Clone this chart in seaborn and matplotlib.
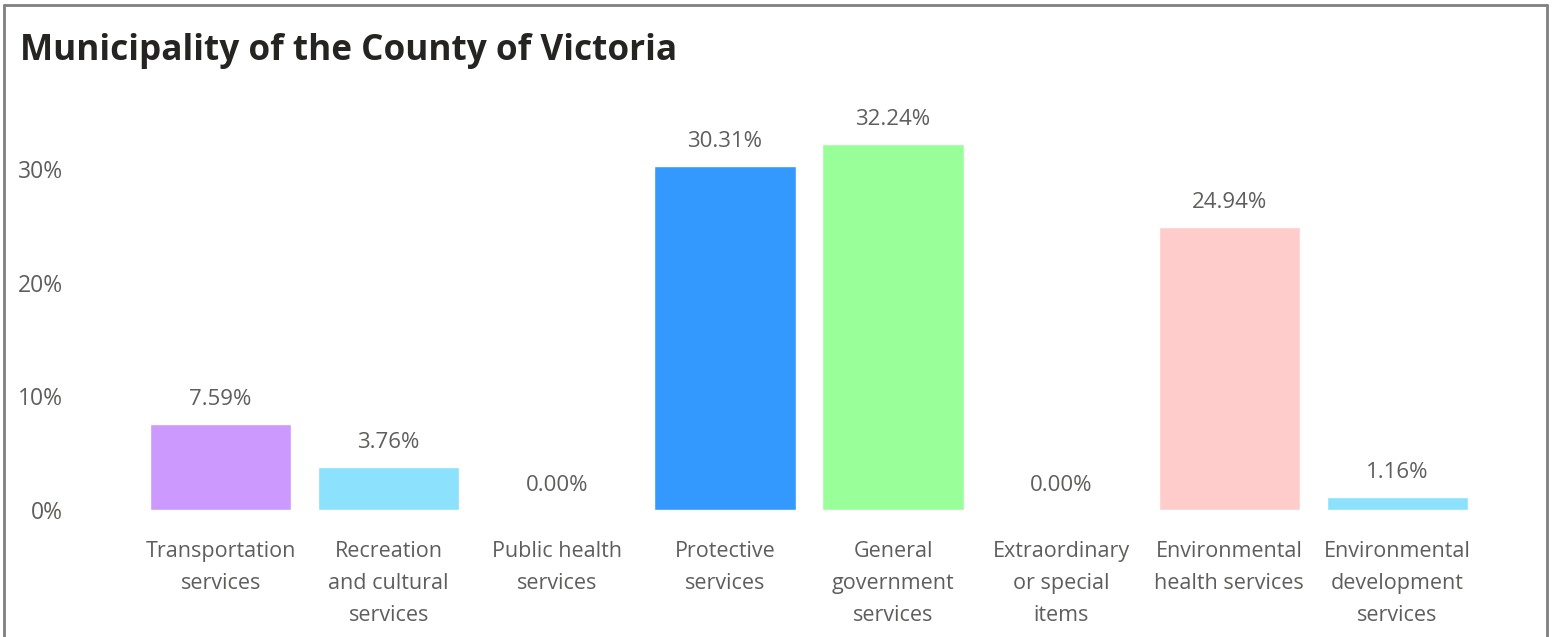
import pandas as pd
import seaborn as sns
import matplotlib.pyplot as plt
from matplotlib.lines import Line2D

# data
categories = ['Transportation\nservices', 'Recreation\nand cultural\nservices',
              'Public health\nservices', 'Protective\nservices',
              'General\ngovernment\nservices', 'Extraordinary\nor special\nitems',
              'Environmental\nhealth services', 'Environmental\ndevelopment\nservices']
values = [7.59, 3.76, 0.00, 30.31, 32.24, 0.00, 24.94, 1.16]
bar_colors = ['#CC99FF', '#8CE1FC', '#8CE1FC', '#3399FF',
              '#99FF99', '#8CE1FC', '#FFCCCC', '#8CE1FC']
yticks = [0, 10, 20, 30]
title = 'Municipality of the County of Victoria'

df = pd.DataFrame({'cat': categories, 'val': values})

sns.set_style('white')
plt.rcParams['font.family'] = ['Open Sans', 'DejaVu Sans']
txt = '#605E5C'

W, H = 1556, 637
fig = plt.figure(figsize=(W / 100, H / 100), dpi=100)
left, right = 136.5, 1481.5
top, bottom = 113.5, 510
ax = fig.add_axes([left / W, 1 - bottom / H, (right - left) / W, (bottom - top) / H])

sns.barplot(data=df, x='cat', y='val', hue='cat', palette=bar_colors,
            width=0.84, legend=False, ax=ax, saturation=1)

ax.set_xlim(-0.5, len(categories) - 0.5)
ax.set_ylim(0, 34.9)
ax.set_yticks(yticks)
ax.set_yticklabels([f'{t}%' for t in yticks])
ax.set_xlabel('')
ax.set_ylabel('')
sns.despine(ax=ax, left=True, bottom=True)
ax.tick_params(axis='y', length=0, pad=53, labelsize=16.5, labelcolor=txt)
ax.tick_params(axis='x', length=0, pad=22.5, labelsize=15.5, labelcolor=txt)
for lab in ax.get_xticklabels():
    lab.set_linespacing(1.68)
    lab.set_va('top')

for c in ax.containers:
    ax.bar_label(c, labels=[f'{v:.2f}%' for v in c.datavalues],
                 padding=10, fontsize=16, color=txt)

fig.text(20 / W, 1 - 51 / H, title, fontsize=25.3, fontweight='bold',
         color='#252423', va='center', ha='left')

# frame around the visual
bc = '#808080'
fig.add_artist(Line2D([4 / W, 4 / W], [0, 1 - 4.5 / H], color=bc, lw=2, transform=fig.transFigure))
fig.add_artist(Line2D([1547 / W, 1547 / W], [0, 1 - 4.5 / H], color=bc, lw=2, transform=fig.transFigure))
fig.add_artist(Line2D([4 / W, 1547 / W], [1 - 4.5 / H, 1 - 4.5 / H], color=bc, lw=2, transform=fig.transFigure))

fig.savefig('out.png', dpi=100)
